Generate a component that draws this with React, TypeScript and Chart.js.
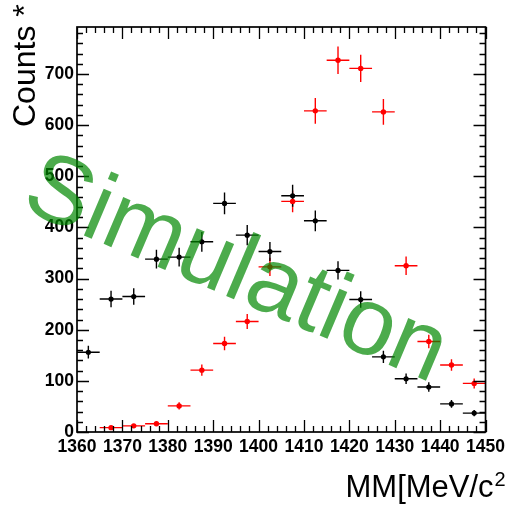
import React, { useEffect, useRef } from "react";
import { Chart, registerables } from "chart.js";

Chart.register(...registerables);

const binCenters = [1362.5, 1367.5, 1372.5, 1377.5, 1382.5, 1387.5, 1392.5, 1397.5, 1402.5, 1407.5, 1412.5, 1417.5, 1422.5, 1427.5, 1432.5, 1437.5, 1442.5, 1447.5];
const dataCounts = [156, 260, 265, 338, 342, 372, 447, 385, 353, 462, 413, 316, 259, 147, 104, 88, 55, 37];
const simCounts = [null, 8.5, 12, 16, 51, 121, 173, 216, 323, 451, 628, 727, 711, 626, 325, 177, 131, 95];
const xTicks = [1360, 1370, 1380, 1390, 1400, 1410, 1420, 1430, 1440, 1450];
const yTicks = [0, 100, 200, 300, 400, 500, 600, 700];
const binHalfWidth = 2.5;
const xMin = 1360;
const xMax = 1450;
const yMin = 0;
const yMax = 792;
const xMinorStep = 2;
const yMinorStep = 20;

const FONT = '"Liberation Sans", Arial, Helvetica, sans-serif';

function buildPoints(counts: (number | null)[]) {
  return binCenters.map((c, i) => {
    const v = counts[i];
    if (v == null) return { x: c, y: null, xerr: 0, yerr: 0 };
    return { x: c, y: v, xerr: binHalfWidth, yerr: Math.sqrt(v) };
  });
}

const errorBarsPlugin = {
  id: "errorBars",
  beforeDatasetsDraw(chart: any) {
    const { ctx, chartArea, scales } = chart;
    const xs = scales.x;
    const ys = scales.y;
    ctx.save();
    ctx.beginPath();
    ctx.rect(chartArea.left, chartArea.top, chartArea.right - chartArea.left, chartArea.bottom - chartArea.top);
    ctx.clip();
    chart.data.datasets.forEach((ds: any) => {
      ctx.strokeStyle = ds.borderColor;
      ctx.lineWidth = 1.4;
      ds.data.forEach((p: any) => {
        if (p == null || p.y == null) return;
        const px = xs.getPixelForValue(p.x);
        const py = ys.getPixelForValue(p.y);
        const x0 = xs.getPixelForValue(p.x - p.xerr);
        const x1 = xs.getPixelForValue(p.x + p.xerr);
        const y0 = ys.getPixelForValue(p.y - p.yerr);
        const y1 = ys.getPixelForValue(p.y + p.yerr);
        ctx.beginPath();
        ctx.moveTo(x0, py);
        ctx.lineTo(x1, py);
        ctx.moveTo(px, y0);
        ctx.lineTo(px, y1);
        ctx.stroke();
      });
    });
    ctx.restore();
  },
};

const framePlugin = {
  id: "frame",
  afterDatasetsDraw(chart: any) {
    const { ctx, chartArea, scales } = chart;
    const xs = scales.x;
    const ys = scales.y;
    const { left, right, top, bottom } = chartArea;
    const majorLen = 12;
    const minorLen = 6;
    ctx.save();
    ctx.strokeStyle = "#000";
    ctx.lineWidth = 1.3;
    ctx.beginPath();
    for (let v = xMin; v <= xMax + 1e-9; v += xMinorStep) {
      const isMajor = Math.abs(v / 10 - Math.round(v / 10)) < 1e-6;
      const L = isMajor ? majorLen : minorLen;
      const px = Math.round(xs.getPixelForValue(v)) + 0.5;
      ctx.moveTo(px, bottom);
      ctx.lineTo(px, bottom - L);
      ctx.moveTo(px, top);
      ctx.lineTo(px, top + L);
    }
    for (let v = yMin; v <= yMax + 1e-9; v += yMinorStep) {
      const isMajor = v % 100 === 0;
      const L = isMajor ? majorLen : minorLen;
      const py = Math.round(ys.getPixelForValue(v)) + 0.5;
      ctx.moveTo(left, py);
      ctx.lineTo(left + L, py);
      ctx.moveTo(right, py);
      ctx.lineTo(right - L, py);
    }
    ctx.stroke();
    ctx.lineWidth = 1.7;
    ctx.strokeRect(left, top, right - left, bottom - top);
    ctx.restore();
  },
  afterDraw(chart: any) {
    const { ctx } = chart;
    ctx.save();
    ctx.fillStyle = "#000";
    // Y title
    ctx.save();
    ctx.translate(35, 127);
    ctx.rotate(-Math.PI / 2);
    ctx.font = `32px ${FONT}`;
    ctx.textAlign = "left";
    ctx.textBaseline = "alphabetic";
    ctx.fillText("Counts *", 0, 0);
    ctx.restore();
    // X title
    ctx.font = `31px ${FONT}`;
    ctx.textAlign = "left";
    ctx.textBaseline = "alphabetic";
    const main = "MM[MeV/c";
    ctx.fillText(main, 345.5, 497);
    const w = ctx.measureText(main).width;
    ctx.font = `20px ${FONT}`;
    ctx.fillText("2", 345.5 + w + 1, 486);
    // Simulation watermark
    ctx.save();
    ctx.translate(19, 208);
    ctx.rotate((23 * Math.PI) / 180);
    ctx.font = `96px ${FONT}`;
    ctx.fillStyle = "rgba(0,136,0,0.7)";
    ctx.fillText("Simulation", 0, 0);
    ctx.restore();
    ctx.restore();
  },
};

export default function App() {
  const canvasRef = useRef<HTMLCanvasElement | null>(null);

  useEffect(() => {
    if (!canvasRef.current) return;
    const chart = new Chart(canvasRef.current, {
      type: "scatter",
      data: {
        datasets: [
          {
            label: "Simulation",
            data: buildPoints(simCounts) as any,
            borderColor: "#ff0000",
            backgroundColor: "#ff0000",
            pointRadius: 2.7,
            pointBorderWidth: 0,
            pointStyle: "circle",
            showLine: false,
          },
          {
            label: "Data",
            data: buildPoints(dataCounts) as any,
            borderColor: "#000000",
            backgroundColor: "#000000",
            pointRadius: 2.6,
            pointBorderWidth: 0,
            pointStyle: "circle",
            showLine: false,
          },
        ],
      },
      options: {
        responsive: false,
        animation: false,
        devicePixelRatio: 1,
        layout: { padding: { left: 0, top: 27, right: 23, bottom: 0 } },
        plugins: {
          legend: { display: false },
          tooltip: { enabled: false },
          title: { display: false },
        },
        scales: {
          x: {
            type: "linear",
            min: xMin,
            max: xMax,
            afterBuildTicks: (s: any) => {
              s.ticks = xTicks.map((v) => ({ value: v }));
            },
            afterFit: (s: any) => {
              s.height = 78;
            },
            grid: { display: false, drawTicks: false },
            border: { display: false },
            ticks: {
              autoSkip: false,
              maxRotation: 0,
              minRotation: 0,
              padding: 5,
              color: "#000",
              font: { family: FONT, size: 17.5, weight: "bold" },
              callback: (v: any) => String(v),
            },
          },
          y: {
            type: "linear",
            min: yMin,
            max: yMax,
            afterBuildTicks: (s: any) => {
              s.ticks = yTicks.map((v) => ({ value: v }));
            },
            afterFit: (s: any) => {
              s.width = 77;
            },
            grid: { display: false, drawTicks: false },
            border: { display: false },
            ticks: {
              autoSkip: false,
              padding: 3,
              color: "#000",
              font: { family: FONT, size: 17.5, weight: "bold" },
              callback: (v: any) => String(v),
            },
          },
        },
      } as any,
      plugins: [errorBarsPlugin, framePlugin],
    });
    return () => chart.destroy();
  }, []);

  return (
    <div style={{ position: "absolute", left: 0, top: 0, width: 510, height: 510, background: "#fff" }}>
      <canvas ref={canvasRef} width={510} height={510} style={{ width: 510, height: 510, display: "block" }} />
    </div>
  );
}
